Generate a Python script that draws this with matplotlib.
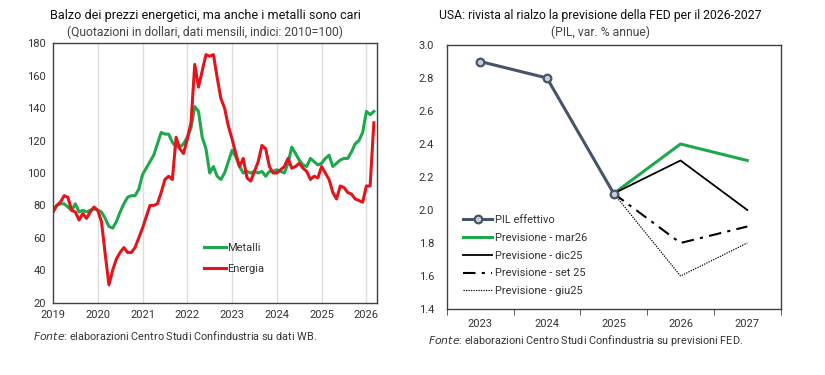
import numpy as np
import matplotlib.pyplot as plt

plt.rcParams['font.family'] = ['Roboto', 'DejaVu Sans']

# monthly indices, Jan 2019 - Mar 2026 (2010=100)
metalli = [76, 80, 81, 81, 79, 77, 81, 76, 77, 76, 77, 78,
           77, 76, 72, 67, 66, 70, 76, 81, 85, 86, 86, 90,
           99, 103, 107, 111, 118, 125, 124, 124, 119, 116, 116, 118,
           122, 128, 141, 138, 122, 115, 100, 104, 98, 96, 100, 107,
           114, 110, 104, 100, 101, 100, 101, 100, 101, 98, 101, 101,
           102, 101, 100, 106, 116, 112, 108, 105, 104, 109, 107, 105,
           106, 109, 111, 104, 106, 108, 109, 109, 113, 118, 120, 125,
           138, 136, 138]
energia = [76, 80, 82, 86, 85, 77, 76, 71, 75, 72, 76, 79,
           77, 70, 50, 31, 40, 47, 51, 54, 51, 51, 54, 60,
           66, 73, 80, 80, 81, 88, 96, 98, 96, 122, 115, 112,
           121, 131, 167, 153, 163, 173, 172, 173, 159, 146, 140, 129,
           121, 112, 104, 109, 97, 95, 101, 107, 117, 115, 104, 100,
           100, 102, 104, 109, 103, 104, 106, 103, 101, 96, 98, 97,
           104, 100, 96, 88, 84, 92, 91, 88, 87, 84, 83, 82,
           92, 92, 131]
anni_sx = list(range(2019, 2027))

anni_dx = ['2023', '2024', '2025', '2026', '2027']
pil_effettivo = [2.9, 2.8, 2.1]
prev_mar26 = [2.1, 2.4, 2.3]
prev_dic25 = [2.1, 2.3, 2.0]
prev_set25 = [2.1, 1.8, 1.9]
prev_giu25 = [2.1, 1.6, 1.8]

VERDE = '#1ea84b'
ROSSO = '#e3141b'
BLU = '#44546a'
TXT = '#333333'

fig = plt.figure(figsize=(8.25, 3.75), dpi=100)

# ---- left chart
ax1 = fig.add_axes([0.0642, 0.1928, 0.3924, 0.6917])
t = 2019 + np.arange(len(metalli)) / 12
ax1.plot(t, metalli, color=VERDE, lw=2.2, label='Metalli')
ax1.plot(t, energia, color=ROSSO, lw=2.2, label='Energia')
ax1.set_xlim(2019, 2026.23)
ax1.set_ylim(20, 180)
ax1.set_yticks(range(20, 181, 20))
ax1.set_xticks(anni_sx)
for a in anni_sx[1:]:
    ax1.axvline(a, color='#dcdcdc', lw=1, zorder=0)
ax1.tick_params(length=0, labelsize=8, colors=TXT, pad=5)
for s in ax1.spines.values():
    s.set_color('#404040')
    s.set_linewidth(1)
ax1.legend(loc='lower left', bbox_to_anchor=(0.435, 0.073), frameon=False,
           fontsize=8, handlelength=2.0, handletextpad=0.1, labelspacing=1.0,
           labelcolor=TXT)
fig.text(0.249, 0.96, 'Balzo dei prezzi energetici, ma anche i metalli sono cari',
         ha='center', va='center', fontsize=9.1, color='#111111')
fig.text(0.249, 0.914, '(Quotazioni in dollari, dati mensili, indici: 2010=100)',
         ha='center', va='center', fontsize=8.7, color='#444444')
fig.text(0.04, 0.104, r'$\it{Fonte}$: elaborazioni Centro Studi Confindustria su dati WB.',
         ha='left', va='center', fontsize=7.8, color=TXT)

# ---- right chart
ax2 = fig.add_axes([0.5415, 0.176, 0.4048, 0.704])
x = np.arange(len(anni_dx))
ax2.plot(x[:3], pil_effettivo, color=BLU, lw=2.2, marker='o', ms=5.5,
         mfc='#c9ced6', mec=BLU, mew=1.6, label='PIL effettivo', zorder=5)
ax2.plot(x[2:], prev_mar26, color=VERDE, lw=2.2, label='Previsione - mar26')
ax2.plot(x[2:], prev_dic25, color='black', lw=1.3, label='Previsione - dic25')
ax2.plot(x[2:], prev_set25, color='black', lw=1.5, dashes=(6, 3, 1.5, 3),
         label='Previsione - set 25')
ax2.plot(x[2:], prev_giu25, color='black', lw=0.9, ls=(0, (1, 1)),
         label='Previsione - giu25')
ax2.set_xlim(-0.5, 4.5)
ax2.set_ylim(1.4, 3.0)
ax2.set_yticks(np.arange(1.4, 3.01, 0.2))
ax2.set_yticklabels([f'{v:.1f}' for v in np.arange(1.4, 3.01, 0.2)])
ax2.set_xticks(x)
ax2.set_xticklabels(anni_dx)
ax2.set_xticks(np.arange(-0.5, 4.6, 1), minor=True)
ax2.tick_params(axis='x', which='major', length=0, pad=7)
ax2.tick_params(axis='x', which='minor', length=4, direction='out', color='#404040')
ax2.tick_params(axis='y', length=0, pad=9)
ax2.tick_params(labelsize=8, colors=TXT)
for s in ax2.spines.values():
    s.set_color('#404040')
    s.set_linewidth(1)
ax2.legend(loc='lower left', bbox_to_anchor=(0.02, 0.01), frameon=False,
           fontsize=8, handlelength=2.6, handletextpad=0.25, labelspacing=0.71,
           labelcolor=TXT)
fig.text(0.728, 0.96, 'USA: rivista al rialzo la previsione della FED per il 2026-2027',
         ha='center', va='center', fontsize=8.8, color='#111111')
fig.text(0.728, 0.914, '(PIL, var. % annue)',
         ha='center', va='center', fontsize=8.7, color='#444444')
fig.text(0.519, 0.093, r'$\it{Fonte}$: elaborazioni Centro Studi Confindustria su previsioni FED.',
         ha='left', va='center', fontsize=7.8, color=TXT)

fig.savefig('out.png', dpi=100)
